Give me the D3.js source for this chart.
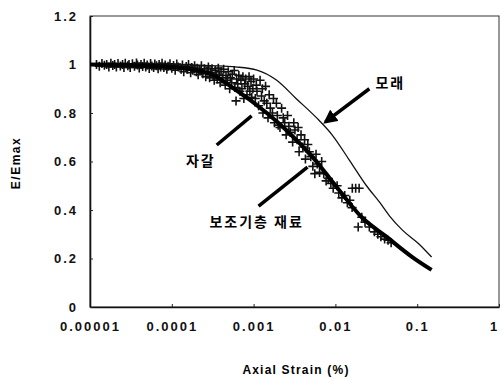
<!DOCTYPE html>
<html>
<head>
<meta charset="utf-8">
<script src="https://cdn.jsdelivr.net/npm/d3@7"></script>
<style>
  body { margin: 0; background: #fff; }
  svg { display: block; }
</style>
</head>
<body>
<div id="container"></div>
<script>
// tick values
let xTicks = [0.00001, 0.0001, 0.001, 0.01, 0.1, 1];
let xTickLabels = ["0.00001", "0.0001", "0.001", "0.01", "0.1", "1"];
let yTicks = [0, 0.2, 0.4, 0.6, 0.8, 1, 1.2];

// 모래 (sand) curve, thin line
let sandStrain = [0.00001, 0.0001, 0.0003, 0.0006, 0.0011, 0.0019, 0.0033, 0.0063, 0.0091, 0.0148, 0.024, 0.035, 0.046, 0.066, 0.105, 0.15];
let sandE = [1.0, 1.0, 0.995, 0.99, 0.977, 0.936, 0.86, 0.77, 0.71, 0.606, 0.5, 0.43, 0.375, 0.317, 0.26, 0.206];

// 보조기층 재료 fitted curve, thick line
let baseStrain = [0.00001, 0.0001, 0.0003, 0.00055, 0.00145, 0.0025, 0.0052, 0.0112, 0.021, 0.042, 0.087, 0.15];
let baseE = [1.0, 0.99, 0.96, 0.905, 0.8, 0.73, 0.62, 0.48, 0.37, 0.29, 0.206, 0.153];

// 자갈 test points [strain, E/Emax]
let testPoints = [
  [1.2e-5,1.0],[1.3e-5,0.993],[1.4e-5,1.004],[1.5e-5,0.997],[1.6e-5,1.0],[1.7e-5,0.99],[1.8e-5,1.005],
  [1.9e-5,0.996],[2.0e-5,1.0],[2.1e-5,0.99],[2.2e-5,1.004],[2.35e-5,0.994],[2.5e-5,1.0],[2.6e-5,0.988],
  [2.7e-5,1.005],[2.9e-5,0.995],[3.0e-5,1.0],[3.1e-5,0.988],[3.3e-5,1.003],[3.5e-5,0.993],[3.7e-5,1.006],
  [3.8e-5,0.998],[4.0e-5,0.986],[4.2e-5,1.0],[4.4e-5,0.992],[4.6e-5,1.005],[4.8e-5,0.99],[5.0e-5,0.998],
  [5.3e-5,0.984],[5.5e-5,1.004],[5.7e-5,0.994],[6.0e-5,0.988],[6.2e-5,1.002],[6.5e-5,0.995],[6.8e-5,0.982],
  [7.0e-5,1.0],[7.3e-5,0.99],[7.6e-5,1.005],[8.0e-5,0.988],[8.3e-5,0.998],[8.7e-5,0.98],[9.0e-5,0.993],
  [9.5e-5,1.003],
  [1.0e-4,0.985],[1.05e-4,0.996],[1.1e-4,0.976],[1.15e-4,1.002],[1.2e-4,0.99],[1.3e-4,0.98],[1.35e-4,0.998],
  [1.4e-4,0.97],[1.5e-4,0.992],[1.55e-4,0.98],[1.6e-4,1.0],[1.7e-4,0.966],[1.75e-4,0.988],[1.8e-4,0.976],
  [1.9e-4,0.995],[2.0e-4,0.97],[2.05e-4,0.985],[2.1e-4,0.958],[2.2e-4,0.978],[2.3e-4,0.995],[2.4e-4,0.962],
  [2.5e-4,0.982],[2.6e-4,0.95],[2.7e-4,0.972],[2.8e-4,0.99],[2.9e-4,0.945],[3.0e-4,0.966],[3.1e-4,0.982],
  [3.2e-4,0.952],[3.3e-4,0.935],[3.4e-4,0.975],[3.5e-4,0.96],[3.6e-4,0.94],[3.7e-4,0.985],[3.8e-4,0.955],
  [3.9e-4,0.925],[4.0e-4,0.97],[4.2e-4,0.945],[4.3e-4,0.98],[4.5e-4,0.915],[4.6e-4,0.955],[4.8e-4,0.935],
  [4.9e-4,0.97],[5.1e-4,0.9],[5.2e-4,0.945],[5.4e-4,0.925],[5.5e-4,0.96],[5.8e-4,0.975],[5.9e-4,0.905],
  [6.1e-4,0.85],[6.2e-4,0.94],[6.4e-4,0.92],[6.6e-4,0.955],[6.8e-4,0.89],[7.0e-4,0.935],[7.2e-4,0.9],
  [7.4e-4,0.95],[7.6e-4,0.86],[7.8e-4,0.92],[8.0e-4,0.94],[8.3e-4,0.875],[8.5e-4,0.91],[8.8e-4,0.95],
  [9.0e-4,0.89],[9.3e-4,0.93],[9.5e-4,0.865],[9.8e-4,0.9],
  [1.0e-3,0.94],[1.05e-3,0.86],[1.08e-3,0.915],[1.1e-3,0.89],[1.15e-3,0.83],[1.2e-3,0.935],[1.25e-3,0.87],
  [1.28e-3,0.9],[1.3e-3,0.8],[1.35e-3,0.85],[1.4e-3,0.91],[1.45e-3,0.84],[1.5e-3,0.78],[1.55e-3,0.875],
  [1.6e-3,0.82],[1.7e-3,0.8],[1.75e-3,0.86],[1.8e-3,0.76],[1.9e-3,0.84],[1.95e-3,0.79],[2.0e-3,0.75],
  [2.1e-3,0.74],[2.2e-3,0.82],[2.3e-3,0.78],[2.4e-3,0.76],[2.5e-3,0.71],[2.6e-3,0.79],[2.7e-3,0.745],
  [2.8e-3,0.72],[3.0e-3,0.68],[3.1e-3,0.76],[3.2e-3,0.73],[3.4e-3,0.69],[3.5e-3,0.74],[3.6e-3,0.64],
  [3.8e-3,0.71],[4.0e-3,0.66],[4.2e-3,0.69],[4.3e-3,0.61],[4.6e-3,0.67],[4.8e-3,0.64],[5.0e-3,0.62],
  [5.3e-3,0.58],[5.6e-3,0.55],[5.8e-3,0.63],[6.0e-3,0.59],[6.4e-3,0.555],[6.8e-3,0.6],[7.2e-3,0.55],
  [7.7e-3,0.52],[8.2e-3,0.53],[8.8e-3,0.51],[9.4e-3,0.49],
  [0.0105,0.5],[0.011,0.47],[0.012,0.45],[0.013,0.46],[0.014,0.43],[0.015,0.44],[0.016,0.41],
  [0.0161,0.49],[0.0177,0.49],[0.0195,0.49],[0.019,0.33],[0.021,0.37],[0.023,0.35],[0.026,0.33],
  [0.03,0.31],[0.033,0.3],[0.036,0.29],[0.04,0.28],[0.044,0.275],[0.048,0.265]
];

// annotations: text position and arrow (from -> to) in data units
let labels = [
  { text: "모래", s: 0.047, e: 0.905, from: [0.026, 0.9], to: [0.00755, 0.763], head: true },
  { text: "자갈", s: 0.000226, e: 0.58, from: [0.000354, 0.668], to: [0.000946, 0.788], head: false },
  { text: "보조기층 재료", s: 0.00109, e: 0.33, from: [0.00115, 0.416], to: [0.00456, 0.577], head: false }
];

let w = 500;
let h = 378;
let padLeft = 90, padRight = 499, padTop = 16, padBottom = 307;

let viz = d3.select("#container")
  .append("svg")
    .attr("width", w)
    .attr("height", h)
;

let xScale = d3.scaleLog().domain([0.00001, 1]).range([padLeft, padRight]);
let yScale = d3.scaleLinear().domain([0, 1.2]).range([padBottom, padTop]);

// frame
viz.append("rect")
  .attr("x", padLeft).attr("y", padTop)
  .attr("width", padRight - padLeft).attr("height", padBottom - padTop)
  .attr("fill", "none").attr("stroke", "#333").attr("stroke-width", 1);

// axes
let xAxis = d3.axisBottom(xScale).tickValues(xTicks)
  .tickFormat(function(d, i){ return xTickLabels[i]; })
  .tickSizeInner(-3).tickSizeOuter(0).tickPadding(15);
let xAxisGroup = viz.append("g")
  .attr("transform", "translate(0," + padBottom + ")")
  .call(xAxis);
// last label sits at the right edge
xAxisGroup.selectAll(".tick text")
  .attr("dx", function(d, i){ return i == xTicks.length - 1 ? -5 : 0; });

let yAxis = d3.axisLeft(yScale).tickValues(yTicks)
  .tickFormat(d3.format("~g"))
  .tickSizeInner(-3).tickSizeOuter(0).tickPadding(12);
let yAxisGroup = viz.append("g")
  .attr("transform", "translate(" + padLeft + ",0)")
  .call(yAxis);

viz.selectAll(".domain").attr("stroke", "#111").attr("stroke-width", 1.6);
viz.selectAll(".tick line").attr("stroke", "#222");
viz.selectAll(".tick text")
  .attr("fill", "#111")
  .style("font-family", "'Liberation Sans', Arial, sans-serif")
  .style("font-weight", "bold")
  .style("font-size", "13px")
  .style("letter-spacing", "2px");

// axis titles
viz.append("text")
  .attr("x", 296).attr("y", 374)
  .attr("text-anchor", "middle")
  .style("font-family", "'Liberation Sans', Arial, sans-serif")
  .style("font-weight", "bold")
  .style("font-size", "12px")
  .style("letter-spacing", "1.2px")
  .text("Axial Strain (%)");

viz.append("text")
  .attr("transform", "translate(20," + 163 + ") rotate(-90)")
  .attr("text-anchor", "middle")
  .style("font-family", "'Liberation Sans', Arial, sans-serif")
  .style("font-weight", "bold")
  .style("font-size", "12px")
  .style("letter-spacing", "1.5px")
  .text("E/Emax");

// scatter "+" markers
let crossSize = 4.5;
let crosses = viz.append("g").selectAll("path")
  .data(testPoints)
  .enter()
  .append("path")
    .attr("d", function(d){
      let cx = xScale(d[0]), cy = yScale(d[1]);
      return "M" + (cx - crossSize) + "," + cy + "H" + (cx + crossSize) +
             "M" + cx + "," + (cy - crossSize) + "V" + (cy + crossSize);
    })
    .attr("stroke", "#111")
    .attr("stroke-width", 1.6)
    .attr("fill", "none");

// curves
let lineMaker = d3.line()
  .x(function(d){ return xScale(d[0]); })
  .y(function(d){ return yScale(d[1]); })
  .curve(d3.curveMonotoneX);

let sandData = sandStrain.map(function(s, i){ return [s, sandE[i]]; });
let baseData = baseStrain.map(function(s, i){ return [s, baseE[i]]; });

viz.append("path")
  .datum(sandData)
  .attr("d", lineMaker)
  .attr("fill", "none")
  .attr("stroke", "#111")
  .attr("stroke-width", 1.3);

viz.append("path")
  .datum(baseData)
  .attr("d", lineMaker)
  .attr("fill", "none")
  .attr("stroke", "#000")
  .attr("stroke-width", 4);

// arrow head marker
viz.append("defs").append("marker")
  .attr("id", "head")
  .attr("viewBox", "0 0 10 10")
  .attr("refX", 8).attr("refY", 5)
  .attr("markerWidth", 4).attr("markerHeight", 4)
  .attr("orient", "auto")
  .append("path")
    .attr("d", "M0,0 L10,5 L0,10 Z")
    .attr("fill", "#000");

// annotation arrows and labels
labels.forEach(function(a){
  viz.append("line")
    .attr("x1", xScale(a.from[0])).attr("y1", yScale(a.from[1]))
    .attr("x2", xScale(a.to[0])).attr("y2", yScale(a.to[1]))
    .attr("stroke", "#000")
    .attr("stroke-width", 3.5)
    .attr("marker-end", a.head ? "url(#head)" : null);

  viz.append("text")
    .attr("x", xScale(a.s))
    .attr("y", yScale(a.e))
    .attr("text-anchor", "middle")
    .style("font-family", "'Noto Sans CJK KR', sans-serif")
    .style("font-weight", "bold")
    .style("font-size", "14px")
    .style("letter-spacing", "2px")
    .attr("fill", "#000")
    .text(a.text);
});
</script>
</body>
</html>
